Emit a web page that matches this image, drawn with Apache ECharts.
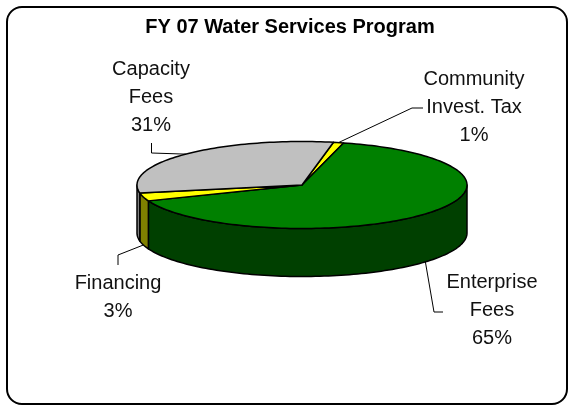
<!DOCTYPE html>
<html>
<head>
<meta charset="utf-8">
<script src="https://cdn.jsdelivr.net/npm/echarts@6/dist/echarts.min.js"></script>
<style>
  html, body { margin: 0; padding: 0; background: #fff; }
  #chart { width: 569px; height: 407px; }
</style>
</head>
<body>
<div id="chart"></div>
<script>
// slice data, in clockwise order starting near 12 o'clock
const categories = ['Community\nInvest. Tax', 'Enterprise\nFees', 'Financing', 'Capacity\nFees'];
const shares = [1, 65, 3, 31];
const topColors = ['#FFFF00', '#008000', '#FFFF00', '#C0C0C0'];
const sideColors = ['#808000', '#004000', '#808000', '#808080'];
const startAngle = 11; // degrees clockwise from 12 o'clock

// 3D pie geometry (pixels)
const pie = { cx: 302, cy: 185, rx: 165, ry: 43.5, depth: 48 };

// label text centre + leader line bends (after the computed anchor)
const labelLayout = [
  { x: 474, y: 107, path: [[412, 108], [423, 108]] },
  { x: 492, y: 310, path: [[434, 312], [443, 312]] },
  { x: 118, y: 297, path: [[118, 255], [118, 265]] },
  { x: 151, y: 97, path: [[151.5, 153], [151.5, 143]] }
];

const total = shares.reduce((a, b) => a + b, 0);
const starts = [];
let acc = startAngle;
shares.forEach(v => { starts.push(acc); acc += v / total * 360; });

function pt(deg, dy) {
  const r = deg * Math.PI / 180;
  return [pie.cx + pie.rx * Math.sin(r), pie.cy - pie.ry * Math.cos(r) + (dy || 0)];
}
function arc(a, b, dy) {
  const n = Math.max(2, Math.ceil((b - a) / 1.5));
  const out = [];
  for (let i = 0; i <= n; i++) out.push(pt(a + (b - a) * i / n, dy));
  return out;
}
function span(i, api) {
  const a = starts[i];
  return [a, a + api.value(0) / total * 360];
}

const chart = echarts.init(document.getElementById('chart'));
const data = shares.map(v => [v]);

chart.setOption({
  animation: false,
  title: {
    text: 'FY 07 Water Services Program',
    left: 285, top: 12, textAlign: 'center',
    textStyle: { fontFamily: '"Liberation Sans", Arial', fontSize: 20, fontWeight: 'bold', color: '#000' }
  },
  graphic: [{
    type: 'rect', z: 0,
    shape: { x: 7, y: 7, width: 560, height: 397, r: 15 },
    style: { fill: '#fff', stroke: '#000', lineWidth: 2 }
  }],
  series: [
    {
      // side walls (front half only)
      type: 'custom', coordinateSystem: 'none', z: 2, data: data,
      renderItem: (params, api) => {
        const i = params.dataIndex;
        const [a, b] = span(i, api);
        const children = [];
        [[90, 270], [450, 630]].forEach(([lo, hi]) => {
          const s = Math.max(a, lo), e = Math.min(b, hi);
          if (e > s) {
            const pts = arc(s, e, 0).concat(arc(s, e, pie.depth).reverse());
            children.push({
              type: 'polygon', shape: { points: pts },
              style: { fill: sideColors[i], stroke: '#000', lineWidth: 1.5, lineJoin: 'round' }
            });
          }
        });
        return { type: 'group', children };
      }
    },
    {
      // top faces
      type: 'custom', coordinateSystem: 'none', z: 3, data: data,
      renderItem: (params, api) => {
        const i = params.dataIndex;
        const [a, b] = span(i, api);
        return {
          type: 'polygon',
          shape: { points: [[pie.cx, pie.cy]].concat(arc(a, b, 0)) },
          style: { fill: topColors[i], stroke: '#000', lineWidth: 1.5, lineJoin: 'round' }
        };
      }
    },
    {
      // labels and leader lines
      type: 'custom', coordinateSystem: 'none', z: 4, data: data,
      renderItem: (params, api) => {
        const i = params.dataIndex;
        const [a, b] = span(i, api);
        const m = ((a + b) / 2) % 360;
        const front = m > 90 && m < 270;
        const anchor = pt(m, front ? pie.depth : 0);
        const lay = labelLayout[i];
        const pct = Math.round(api.value(0) / total * 100) + '%';
        return {
          type: 'group',
          children: [
            {
              type: 'polyline',
              shape: { points: [anchor].concat(lay.path) },
              style: { fill: null, stroke: '#000', lineWidth: 1 }
            },
            {
              type: 'text',
              style: {
                text: categories[i] + '\n' + pct,
                x: lay.x, y: lay.y, align: 'center', verticalAlign: 'middle',
                fontFamily: '"Liberation Sans", Arial', fontSize: 20, lineHeight: 28,
                fill: '#111'
              }
            }
          ]
        };
      }
    }
  ]
});
</script>
</body>
</html>
